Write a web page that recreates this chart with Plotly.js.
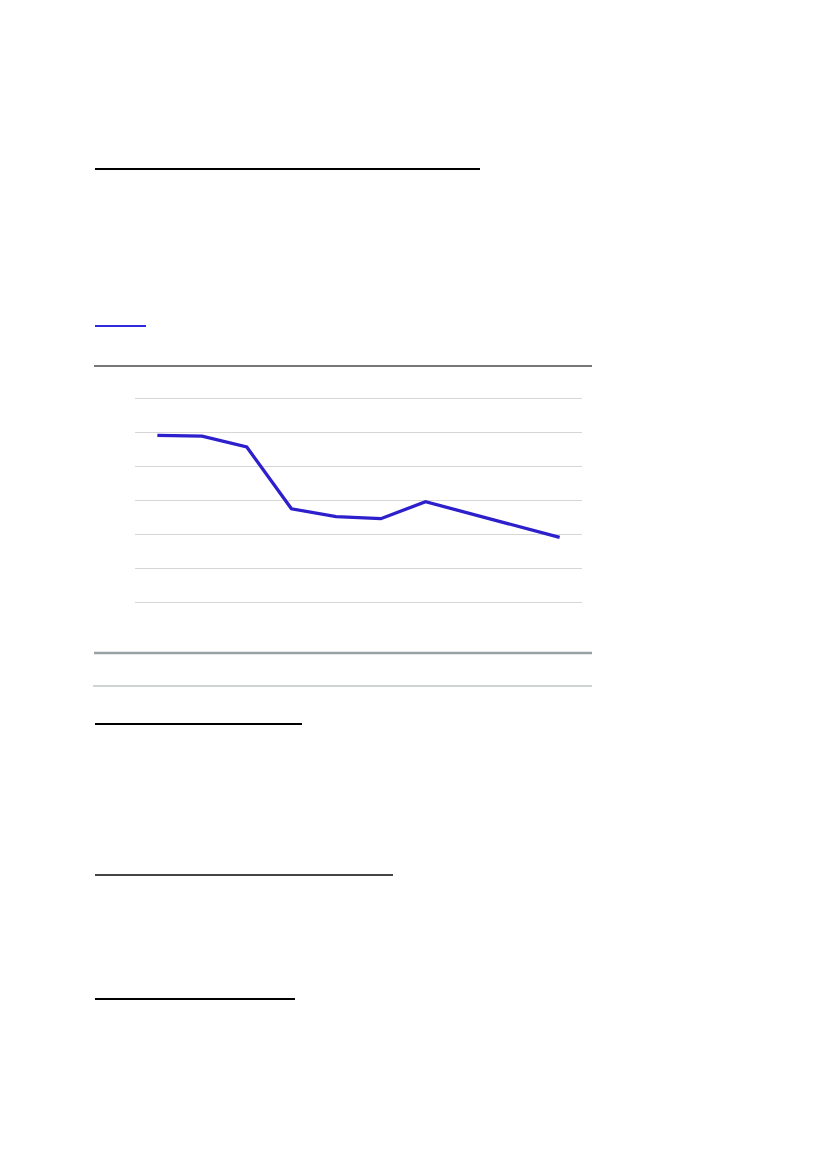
<!DOCTYPE html>
<html>
<head>
<meta charset="utf-8">
<script src="https://cdn.plot.ly/plotly-3.0.1.min.js"></script>
<style>
  html, body { margin: 0; padding: 0; background: #ffffff; }
  #page { width: 827px; height: 1169px; }
</style>
</head>
<body>
<div id="page"></div>
<script>

// categories (labels are not printed in the source)
const periods = ["P1","P2","P3","P4","P5","P6","P7","P8","P9","P10"];

// series values
const seriesValues = [4.90, 4.88, 4.56, 2.74, 2.51, 2.45, 2.95, 2.60, 2.24, 1.90];

// y gridline values
const yTicks = [0, 1, 2, 3, 4, 5, 6];


const W = 827;
const H = 1169;

function px(x) { return x / W; }
function py(y) { return 1 - y / H; }

// horizontal rules on the page
function rule(x0, x1, y, color, width) {
    return {
        type: "line",
        xref: "paper",
        yref: "paper",
        x0: px(x0),
        x1: px(x1),
        y0: py(y),
        y1: py(y),
        line: { color: color, width: width }
    };
}

const shapes = [
    rule(95, 480, 169, "#000000", 2),
    rule(95, 146, 326, "#2f2ae0", 2),
    rule(94, 592, 366, "#4a4a4a", 1.5),
    rule(94, 592, 653, "#98a2a2", 2.5),
    rule(93, 592, 686, "#bfc4c4", 1.5),
    rule(95, 302, 724, "#000000", 2),
    rule(95, 393, 875, "#444444", 2),
    rule(95, 295, 999, "#000000", 2)
];


const traces = [];

traces.push({

    x: periods,
    y: seriesValues,

    mode: "lines",

    line: {
        color: "#2d1fcc",
        width: 3.3
    },

    hoverinfo: "skip",
    showlegend: false

});


const layout = {

    width: W,
    height: H,

    margin: { l: 0, r: 0, t: 0, b: 0 },

    paper_bgcolor: "#ffffff",
    plot_bgcolor: "#ffffff",

    xaxis: {
        domain: [px(135), px(582)],
        type: "category",
        range: [-0.5, 9.5],
        showgrid: false,
        zeroline: false,
        showline: false,
        showticklabels: false,
        ticks: ""
    },

    yaxis: {
        domain: [py(605.4), py(394.6)],
        range: [-0.1, 6.1],
        tickvals: yTicks,
        showgrid: true,
        gridcolor: "#d6d6d6",
        gridwidth: 1,
        zeroline: false,
        showline: false,
        showticklabels: false,
        ticks: ""
    },

    shapes: shapes,

    showlegend: false

};

Plotly.newPlot(
    "page",
    traces,
    layout,
    { staticPlot: true, displayModeBar: false }
);

</script>
</body>
</html>
